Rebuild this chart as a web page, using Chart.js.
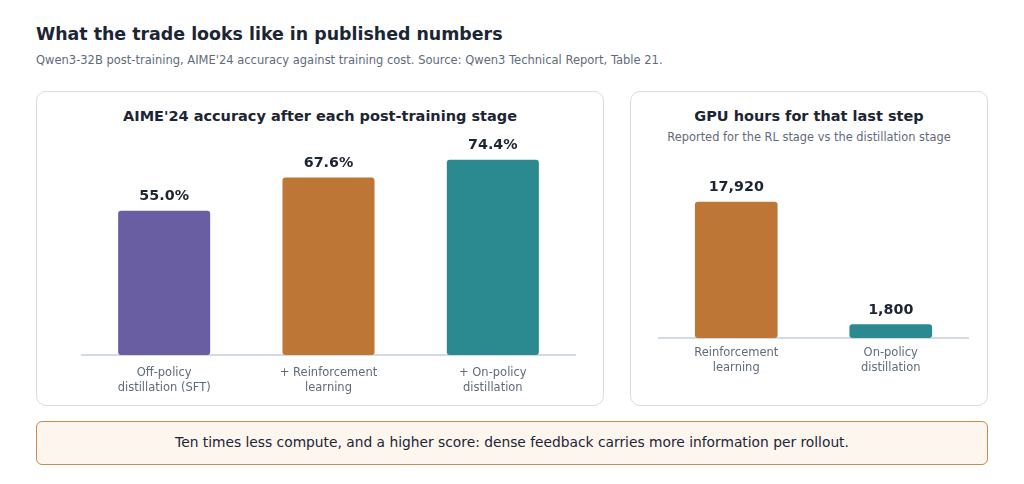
<!DOCTYPE html>
<html>
<head>
<meta charset="utf-8">
<script src="https://cdn.jsdelivr.net/npm/chart.js@4.4.1/dist/chart.umd.min.js"></script>
<style>
  html, body { margin: 0; padding: 0; background: #ffffff; }
  body { width: 1024px; height: 484px; position: relative; overflow: hidden; font-family: "DejaVu Sans", sans-serif; color: #1c2533; }
  .abs { position: absolute; }
  #title { left: 36px; top: 24px; font-size: 17.4px; font-weight: bold; color: #1c2533; white-space: nowrap; }
  #subtitle { left: 36px; top: 53px; font-size: 11.5px; color: #5f6b79; white-space: nowrap; }
  .card { border: 1.5px solid #d6dde3; border-radius: 10px; box-sizing: border-box; background: #fff; }
  #cardL { left: 36px; top: 91px; width: 568px; height: 315px; }
  #cardR { left: 630px; top: 91px; width: 358px; height: 315px; }
  .ctitle { width: 100%; text-align: center; font-weight: bold; font-size: 14.5px; color: #1c2533; white-space: nowrap; }
  .csub { width: 100%; text-align: center; font-size: 11.4px; color: #5f6b79; white-space: nowrap; }
  #callout { left: 36px; top: 421px; width: 952px; height: 44px; border: 1.5px solid #cc8a4e; border-radius: 6px; background: #fcf6ef; box-sizing: border-box; text-align: center; line-height: 41px; font-size: 13.8px; color: #1c2533; white-space: nowrap; }
  .cwrap { position: absolute; }
</style>
</head>
<body>
<div id="title" class="abs">What the trade looks like in published numbers</div>
<div id="subtitle" class="abs">Qwen3-32B post-training, AIME'24 accuracy against training cost. Source: Qwen3 Technical Report, Table 21.</div>

<div id="cardL" class="abs card"></div>
<div class="abs ctitle" style="left:36px; width:568px; top:107.5px;">AIME'24 accuracy after each post-training stage</div>
<div class="cwrap" style="left:37px; top:130px; width:566px; height:270px;"><canvas id="chartL"></canvas></div>

<div id="cardR" class="abs card"></div>
<div class="abs ctitle" style="left:630px; width:358px; top:107.5px;">GPU hours for that last step</div>
<div class="abs csub" style="left:630px; width:358px; top:130px;">Reported for the RL stage vs the distillation stage</div>
<div class="cwrap" style="left:631px; top:150px; width:356px; height:233px;"><canvas id="chartR"></canvas></div>

<div id="callout" class="abs">Ten times less compute, and a higher score: dense feedback carries more information per rollout.</div>

<script>
// ---- data ----
const stageLabels = [["Off-policy", "distillation (SFT)"], ["+ Reinforcement", "learning"], ["+ On-policy", "distillation"]];
const aimeAccuracy = [55.0, 67.6, 74.4];
const stageColors = ["#6a5ea3", "#bd7636", "#2a8a90"];

const costLabels = [["Reinforcement", "learning"], ["On-policy", "distillation"]];
const gpuHours = [17920, 1800];
const costColors = ["#bd7636", "#2a8a90"];

const accuracyMax = 80;
const hoursMax = 20000;

// ---- plugin: value labels above bars ----
const valueLabels = {
  id: 'valueLabels',
  afterDatasetsDraw(chart, args, opts) {
    const ctx = chart.ctx;
    const meta = chart.getDatasetMeta(0);
    const data = chart.data.datasets[0].data;
    ctx.save();
    ctx.font = 'bold 14.3px "DejaVu Sans"';
    ctx.fillStyle = '#1c2533';
    ctx.textAlign = 'center';
    ctx.textBaseline = 'middle';
    meta.data.forEach((bar, i) => {
      ctx.fillText(opts.format(data[i]), bar.x, bar.y - opts.offset);
    });
    ctx.restore();
  }
};

function makeChart(id, labels, values, colors, max, pad, barPct, tickPad, fmt) {
  return new Chart(document.getElementById(id), {
    type: 'bar',
    data: {
      labels: labels,
      datasets: [{
        data: values,
        backgroundColor: colors,
        borderRadius: 3,
        borderSkipped: false,
        barPercentage: barPct,
        categoryPercentage: 1.0
      }]
    },
    options: {
      responsive: true,
      maintainAspectRatio: false,
      animation: false,
      devicePixelRatio: 1,
      layout: { padding: pad },
      plugins: {
        legend: { display: false },
        tooltip: { enabled: false },
        valueLabels: { format: fmt, offset: 14.5 }
      },
      scales: {
        x: {
          grid: { display: false, drawTicks: false },
          border: { display: true, color: '#d3dbe2', width: 2 },
          ticks: {
            color: '#5f6b79',
            font: { family: '"DejaVu Sans"', size: 11.5, lineHeight: 1.22 },
            padding: tickPad,
            maxRotation: 0
          },
          afterFit(scale) { scale.height = 45; }
        },
        y: {
          display: false,
          min: 0,
          max: max
        }
      }
    },
    plugins: [valueLabels]
  });
}

makeChart('chartL', stageLabels, aimeAccuracy, stageColors, accuracyMax,
  { left: 45, right: 28, top: 15, bottom: 0 }, 0.56, 11.5,
  v => v.toFixed(1) + '%');

makeChart('chartR', costLabels, gpuHours, costColors, hoursMax,
  { left: 28, right: 19, top: 36, bottom: 0 }, 0.535, 8.5,
  v => v.toLocaleString('en-US'));
</script>
</body>
</html>
